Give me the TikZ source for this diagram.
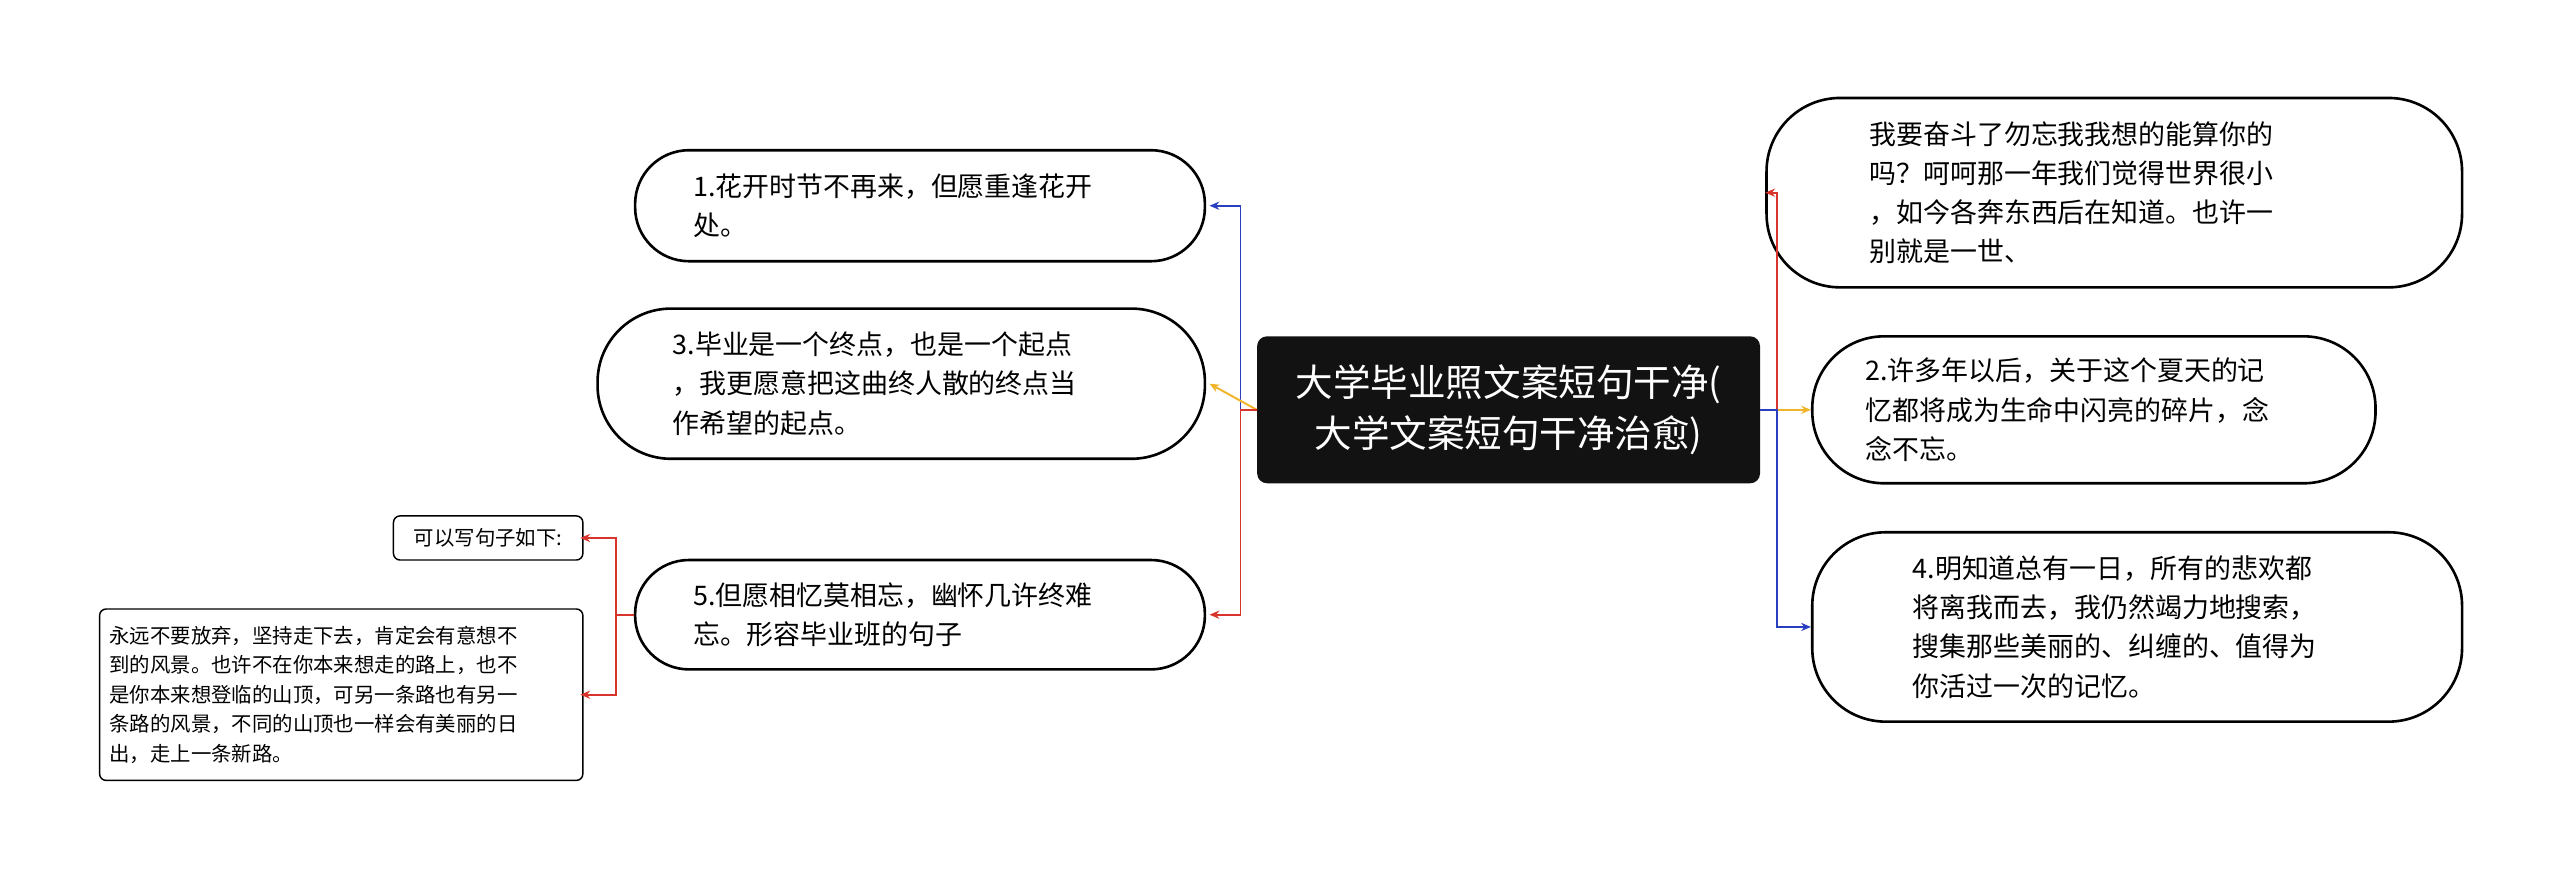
\documentclass[tikz,border=0pt]{standalone}
\usepackage{fontspec}
\setmainfont{Noto Sans CJK SC}
\usetikzlibrary{arrows.meta}
\definecolor{cred}{HTML}{D9342B}
\definecolor{cyel}{HTML}{F0B429}
\definecolor{cblu}{HTML}{2A3EC0}
\begin{document}
\begin{tikzpicture}[x=1pt,y=1pt,
  leaf/.style={draw=black,line width=1.6pt,fill=white,inner sep=0pt,align=left,font=\fontsize{16.5}{24}\selectfont},
  small/.style={draw=black,line width=0.9pt,fill=white,rounded corners=4pt,inner sep=0pt,align=left,font=\fontsize{12.5}{18}\selectfont},
  conn/.style={line width=1.2pt,-{Stealth[length=6pt,width=5pt]}}]
\useasboundingbox (0,0) rectangle (1568,-539);
\node[fill=black!93,rounded corners=6pt,minimum width=308,minimum height=90,text=white,align=center,font=\fontsize{23}{31}\selectfont] (c) at (924,-251) {大学毕业照文案短句干净(\\大学文案短句干净治愈)};
\node[leaf,rounded corners=45pt,minimum width=426,minimum height=116,text width=300] (r1) at (1295,-118) {我要奋斗了勿忘我我想的能算你的\\吗？呵呵那一年我们觉得世界很小\\，如今各奔东西后在知道。也许一\\别就是一世、};
\node[leaf,rounded corners=44pt,minimum width=345,minimum height=90,text width=280] (r2) at (1282.5,-251) {2.许多年以后，关于这个夏天的记\\忆都将成为生命中闪亮的碎片，念\\念不忘。};
\node[leaf,rounded corners=45pt,minimum width=398,minimum height=116,text width=275] (r3) at (1309,-384) {4.明知道总有一日，所有的悲欢都\\将离我而去，我仍然竭力地搜索，\\搜集那些美丽的、纠缠的、值得为\\你活过一次的记忆。};
\node[leaf,rounded corners=33pt,minimum width=349,minimum height=68,text width=278] (l1) at (563.5,-126) {1.花开时节不再来，但愿重逢花开\\处。};
\node[leaf,rounded corners=45pt,minimum width=372,minimum height=92,text width=280] (l3) at (552,-235) {3.毕业是一个终点，也是一个起点\\，我更愿意把这曲终人散的终点当\\作希望的起点。};
\node[leaf,rounded corners=33pt,minimum width=349,minimum height=67,text width=278] (l5) at (563.5,-376.5) {5.但愿相忆莫相忘，幽怀几许终难\\忘。形容毕业班的句子};
\node[small,minimum width=116,minimum height=27,align=center] (s1) at (299,-329.5) {可以写句子如下:};
\node[small,minimum width=296,minimum height=105,text width=284] (s2) at (209,-425.5) {永远不要放弃，坚持走下去，肯定会有意想不\\到的风景。也许不在你本来想走的路上，也不\\是你本来想登临的山顶，可另一条路也有另一\\条路的风景，不同的山顶也一样会有美丽的日\\出，走上一条新路。};
\draw[conn,cred] (c.east) -- ++(10,0) |- (r1.west);
\draw[conn,cyel] (c.east) -- (r2.west);
\draw[conn,cblu] (c.east) -- ++(10,0) |- (r3.west);
\draw[conn,cblu] (c.west) -- ++(-10,0) |- ([xshift=2pt]l1.east);
\draw[conn,cyel] (c.west) -- ([xshift=2pt]l3.east);
\draw[conn,cred] (c.west) -- ++(-10,0) |- ([xshift=2pt]l5.east);
\draw[conn,cred] (l5.west) -- ++(-11,0) |- ([xshift=-2pt]s1.east);
\draw[conn,cred] (l5.west) -- ++(-11,0) |- ([xshift=-2pt]s2.east);
\end{tikzpicture}
\end{document}
